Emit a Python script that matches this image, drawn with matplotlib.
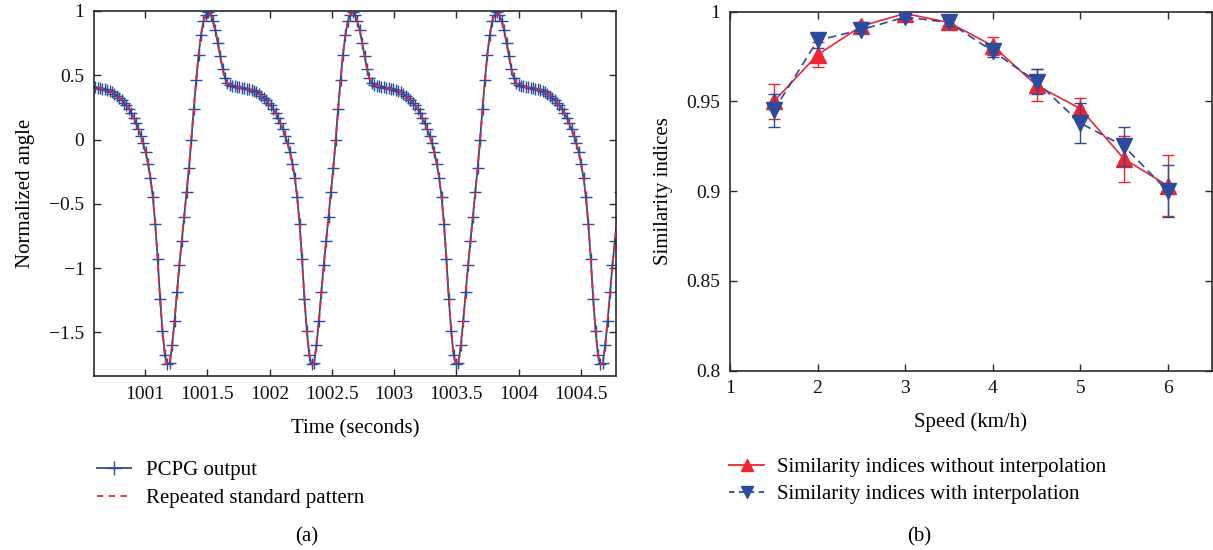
import numpy as np
import matplotlib
matplotlib.use("Agg")
import matplotlib.pyplot as plt
from matplotlib.lines import Line2D

plt.rcParams['font.family'] = ['Liberation Serif', 'DejaVu Serif']
plt.rcParams['mathtext.fontset'] = 'stix'

# ---------------- data: panel (a) ----------------
# one gait cycle of the standard pattern (normalized angle), sampled uniformly, starting at a trough
cycle_values = [-1.75, -1.74, -1.60, -1.41, -1.19, -0.98, -0.79, -0.60, -0.41, -0.22,
                0.00, 0.24, 0.46, 0.66, 0.81, 0.92, 0.97, 0.99, 0.97, 0.92,
                0.85, 0.75, 0.65, 0.55, 0.475, 0.44, 0.425, 0.42, 0.415, 0.41,
                0.405, 0.40, 0.40, 0.395, 0.39, 0.385, 0.38, 0.37, 0.355, 0.34,
                0.325, 0.305, 0.285, 0.265, 0.24, 0.21, 0.17, 0.13, 0.08, 0.03,
                -0.03, -0.10, -0.19, -0.30, -0.45, -0.66, -0.93, -1.24, -1.49, -1.68]
cycle_period = 1.16          # seconds
first_trough_time = 1000.018  # seconds
n_cycles = 5

# ---------------- data: panel (b) ----------------
speeds = [1.5, 2.0, 2.5, 3.0, 3.5, 4.0, 4.5, 5.0, 5.5, 6.0]
sim_without = [0.950, 0.976, 0.992, 0.999, 0.994, 0.981, 0.959, 0.946, 0.918, 0.903]
err_without = [0.010, 0.007, 0.002, 0.001, 0.002, 0.005, 0.009, 0.006, 0.013, 0.017]
sim_with = [0.945, 0.984, 0.990, 0.997, 0.994, 0.978, 0.961, 0.938, 0.925, 0.900]
err_with = [0.009, 0.004, 0.002, 0.001, 0.002, 0.003, 0.007, 0.011, 0.011, 0.0145]

x_ticks_a = [1001, 1001.5, 1002, 1002.5, 1003, 1003.5, 1004, 1004.5]
x_ticklabels_a = ['1001', '1001.5', '1002', '1002.5', '1003', '1003.5', '1004', '1004.5']
y_ticks_a = [-1.5, -1, -0.5, 0, 0.5, 1]
y_ticklabels_a = ['\u22121.5', '\u22121', '\u22120.5', '0', '0.5', '1']
x_ticks_b = [1, 2, 3, 4, 5, 6]
y_ticks_b = [0.8, 0.85, 0.9, 0.95, 1.0]
y_ticklabels_b = ['0.8', '0.85', '0.9', '0.95', '1']

BLUE = '#2c4b9e'
RED = '#ee2530'
SPINE = '#2a2a2a'
FS_TICK = 14
FS_LABEL = 15

n_per = len(cycle_values)
dt = cycle_period / n_per
values = np.concatenate([np.tile(cycle_values, n_cycles), [cycle_values[0]]])
time = first_trough_time + dt * np.arange(len(values))

fig = plt.figure(figsize=(12.13, 5.5), dpi=100)

def style_axes(ax):
    for s in ax.spines.values():
        s.set_color(SPINE)
        s.set_linewidth(1.2)
    ax.tick_params(direction='in', top=True, right=True, length=5, width=1,
                   labelsize=FS_TICK, colors=SPINE, labelcolor='#111111', pad=7)

# ---------- panel (a) ----------
axa = fig.add_axes([0.0776, 0.3164, 0.4304, 0.6636])
axa.plot(time, values, color=BLUE, lw=1.3, marker='+', ms=8, mew=1.0,
         label='PCPG output', zorder=2)
axa.plot(time, values, color=RED, lw=1.3, ls=(0, (3.5, 3)),
         label='Repeated standard pattern', zorder=3)
axa.set_xlim(1000.59, 1004.785)
axa.set_ylim(-1.84, 1.0)
axa.set_xticks(x_ticks_a)
axa.set_xticklabels(x_ticklabels_a)
axa.set_yticks(y_ticks_a)
axa.set_yticklabels(y_ticklabels_a)
axa.set_xlabel('Time (seconds)', fontsize=FS_LABEL, labelpad=12)
axa.set_ylabel('Normalized angle', fontsize=FS_LABEL, labelpad=10)
style_axes(axa)

ha = [Line2D([], [], color=BLUE, lw=1.3, marker='+', ms=10, mew=1.0),
      Line2D([], [], color=RED, lw=1.3, ls=(0, (3.5, 3)))]
fig.legend(ha, ['PCPG output', 'Repeated standard pattern'],
           loc='upper left', bbox_to_anchor=(0.080, 0.163), frameon=False,
           fontsize=FS_LABEL, handlelength=1.65, handletextpad=0.72,
           labelspacing=0.4, borderaxespad=0, borderpad=0)
fig.text(0.253, 0.024, '(a)', fontsize=FS_LABEL, ha='center', va='center')

# ---------- panel (b) ----------
axb = fig.add_axes([0.6018, 0.326, 0.3971, 0.6527])
axb.errorbar(speeds, sim_without, yerr=err_without, color=RED, lw=1.2,
             marker='^', ms=12, capsize=4, elinewidth=1.0, capthick=1.0,
             ls='-', zorder=3)
axb.errorbar(speeds, sim_with, yerr=err_with, color=BLUE, lw=1.2,
             marker='v', ms=12, capsize=4, elinewidth=1.0, capthick=1.0,
             ls=(0, (5, 3)), zorder=4)
axb.set_xlim(1, 6.5)
axb.set_ylim(0.8, 1.0)
axb.set_xticks(x_ticks_b)
axb.set_yticks(y_ticks_b)
axb.set_yticklabels(y_ticklabels_b)
axb.set_xlabel('Speed (km/h)', fontsize=FS_LABEL, labelpad=11)
axb.set_ylabel('Similarity indices', fontsize=FS_LABEL, labelpad=9.5)
style_axes(axb)

hb = [Line2D([], [], color=RED, lw=1.3, marker='^', ms=9),
      Line2D([], [], color=BLUE, lw=1.3, ls=(0, (3, 2.5)), marker='v', ms=9)]
fig.legend(hb, ['Similarity indices without interpolation',
                'Similarity indices with interpolation'],
           loc='upper left', bbox_to_anchor=(0.601, 0.168), frameon=False,
           fontsize=FS_LABEL, handlelength=1.7, handletextpad=0.62,
           labelspacing=0.35, borderaxespad=0, borderpad=0)
fig.text(0.758, 0.024, '(b)', fontsize=FS_LABEL, ha='center', va='center')

fig.savefig('out.png', dpi=100)
